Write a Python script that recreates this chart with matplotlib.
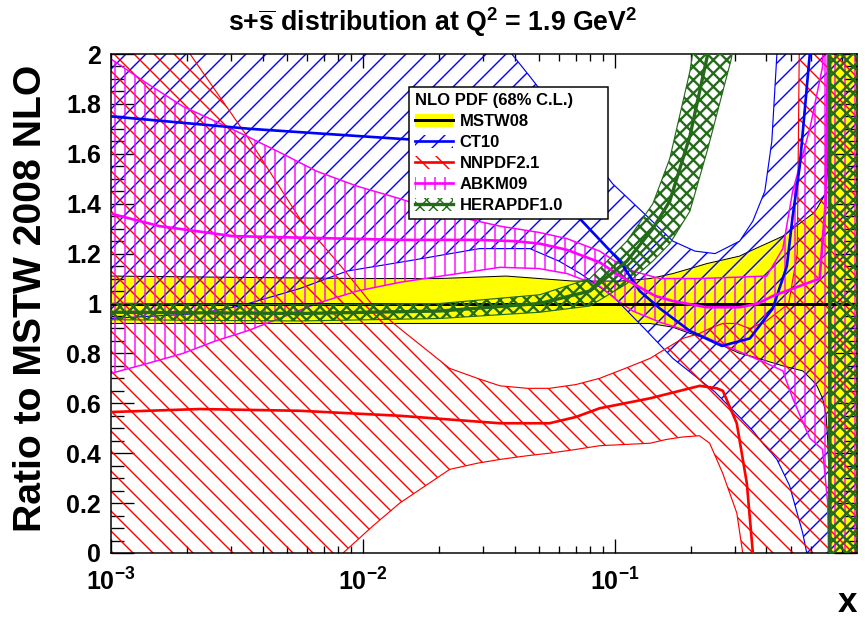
import numpy as np
import matplotlib
matplotlib.use("Agg")
import matplotlib.pyplot as plt
from matplotlib.patches import Patch
from matplotlib.lines import Line2D
from matplotlib.ticker import MultipleLocator, LogLocator, FuncFormatter, NullFormatter

plt.rcParams['font.family'] = ['Liberation Sans', 'DejaVu Sans']
plt.rcParams['font.weight'] = 'bold'
plt.rcParams['mathtext.fontset'] = 'custom'
plt.rcParams['mathtext.rm'] = 'Liberation Sans:bold'
plt.rcParams['mathtext.bf'] = 'Liberation Sans:bold'
plt.rcParams['mathtext.it'] = 'Liberation Sans:bold:italic'
plt.rcParams['hatch.linewidth'] = 0.85

# ratio s+sbar (PDF) / s+sbar (MSTW08) at Q^2 = 1.9 GeV^2
# MSTW08 ratio band (central is 1 by construction)
mstw_central = 1.0
x_mstw = [0.001, 0.003, 0.01, 0.02, 0.037, 0.068, 0.105, 0.138, 0.170, 0.199, 0.232, 0.313,
          0.344, 0.465, 0.557, 0.611, 0.634, 0.668, 0.690, 0.700, 0.706, 0.711, 0.715, 0.915]
mstw_hi = [1.11, 1.105, 1.10, 1.10, 1.11, 1.09, 1.09, 1.10, 1.12, 1.14, 1.16, 1.19,
           1.21, 1.27, 1.33, 1.36, 1.38, 1.42, 1.45, 1.55, 1.8, 2.4, 3, 3]
mstw_lo = [0.92, 0.92, 0.92, 0.92, 0.92, 0.92, 0.92, 0.92, 0.905, 0.88, 0.86, 0.80,
           0.79, 0.75, 0.73, 0.69, 0.67, 0.62, 0.55, 0.45, 0.35, 0.2, -1, -1]

# CT10
x_ct = [0.001, 0.00225, 0.00325, 0.00562, 0.00865, 0.015, 0.029, 0.039, 0.046, 0.060, 0.073,
        0.098, 0.131, 0.170, 0.208, 0.250, 0.313, 0.353, 0.394, 0.420, 0.440, 0.494, 0.557,
        0.578, 0.60, 0.915]
ct_hi = [3, 3, 3, 3, 3, 3, 2.2, 2.0, 1.91, 1.76, 1.65, 1.48, 1.36, 1.25, 1.21, 1.20, 1.25,
         1.33, 1.45, 1.65, 2.0, 3, 3, 3, 3, 3]
ct_lo = [0.94, 0.96, 0.99, 1.06, 1.13, 1.17, 1.22, 1.22, 1.22, 1.17, 1.12, 1.03, 0.90, 0.78,
         0.71, 0.645, 0.545, 0.49, 0.43, 0.40, 0.375, 0.27, 0.08, 0.0, -0.3, -1]
x_ct_c = [0.001, 0.00357, 0.01403, 0.029, 0.0383, 0.045, 0.0527, 0.0726, 0.1047, 0.1256, 0.151,
          0.1986, 0.2661, 0.3436, 0.4236, 0.482, 0.5082, 0.542, 0.5943, 0.62, 0.712, 0.714, 0.915]
ct_c = [1.75, 1.70, 1.66, 1.64, 1.62, 1.57, 1.49, 1.34, 1.17, 1.05, 0.98, 0.89, 0.83, 0.86, 0.98,
        1.15, 1.35, 1.55, 2.0, 3, 3, -1, -1]

# NNPDF2.1
x_nn = [0.001, 0.00206, 0.00347, 0.00562, 0.00834, 0.011, 0.014, 0.0221, 0.0285, 0.035, 0.045,
        0.055, 0.07, 0.087, 0.11, 0.138, 0.16, 0.186, 0.217, 0.238, 0.268, 0.305, 0.322, 0.344,
        0.40, 0.49, 0.53, 0.542, 0.55, 0.915]
nn_hi = [2.6, 2.0, 1.67, 1.34, 1.14, 0.99, 0.90, 0.74, 0.70, 0.67, 0.66, 0.66, 0.675, 0.70,
         0.74, 0.78, 0.82, 0.86, 0.88, 0.90, 0.92, 0.92, 0.91, 0.90, 0.93, 1.0, 1.2, 2.2, 3, 3]
nn_lo = [-0.9, -0.6, -0.38, -0.2, 0.0, 0.11, 0.2, 0.335, 0.36, 0.375, 0.39, 0.40, 0.415, 0.43,
         0.435, 0.44, 0.455, 0.465, 0.47, 0.44, 0.32, 0.16, 0.0, -0.2, -0.6, -1, -1, -1, -1, -1]
x_nn_c = [0.001, 0.00225, 0.00562, 0.014, 0.035, 0.055, 0.07, 0.087, 0.138, 0.2173, 0.2541,
          0.2686, 0.3048, 0.3342, 0.3532, 0.37]
nn_c = [0.565, 0.577, 0.57, 0.55, 0.52, 0.52, 0.545, 0.58, 0.62, 0.67, 0.66, 0.65, 0.52, 0.28,
        0.0, -0.5]

# ABKM09
x_ab = [0.001, 0.0014, 0.00193, 0.0026, 0.00347, 0.0048, 0.00656, 0.0095, 0.01403, 0.02213,
        0.0350, 0.05, 0.0646, 0.0871, 0.1, 0.1178, 0.151, 0.2173, 0.4009, 0.4645, 0.5082,
        0.5943, 0.668, 0.700, 0.733, 0.915]
ab_hi = [1.98, 1.88, 1.79, 1.73, 1.67, 1.60, 1.53, 1.47, 1.42, 1.355, 1.31, 1.285, 1.26, 1.21,
         1.17, 1.13, 1.10, 1.10, 1.11, 1.22, 1.45, 1.7, 1.95, 3, 3, 3]
ab_lo = [0.72, 0.76, 0.80, 0.85, 0.89, 0.945, 1.0, 1.05, 1.085, 1.115, 1.145, 1.14, 1.12, 1.07,
         1.02, 0.97, 0.925, 0.875, 0.76, 0.73, 0.62, 0.46, 0.415, 0.2, -1, -1]
x_ab_c = [0.001, 0.00156, 0.00305, 0.01403, 0.0283, 0.04, 0.0503, 0.0646, 0.0871, 0.105, 0.1256,
          0.145, 0.1698, 0.2317, 0.3133, 0.37, 0.4236, 0.542, 0.650, 0.687, 0.706, 0.713, 0.715, 0.915]
ab_c = [1.36, 1.31, 1.27, 1.255, 1.255, 1.25, 1.24, 1.215, 1.165, 1.11, 1.065, 1.03, 1.01, 0.985,
        0.985, 1.0, 1.03, 1.07, 1.10, 1.4, 2.2, 3, -1, -1]

# HERAPDF1.0
x_hera = [0.001, 0.00562, 0.02024, 0.0503, 0.0796, 0.1117, 0.1416, 0.1652, 0.1986, 0.2339,
          0.29, 0.35, 0.70, 0.712, 0.714, 0.915]
hera_hi = [1.0, 0.995, 1.0, 1.035, 1.10, 1.25, 1.40, 1.58, 1.93, 2.4, 3.2, 3.5, 3.5, 3.5, 3.5, 3.5]
hera_lo = [0.935, 0.93, 0.94, 0.965, 0.99, 1.08, 1.17, 1.24, 1.37, 1.62, 1.98, 2.5, 3.2, 3.5, -1, -1]
x_hera_c = [0.001, 0.00562, 0.02024, 0.0503, 0.0796, 0.1117, 0.1416, 0.1652, 0.1986, 0.2339,
            0.29, 0.712, 0.714, 0.915]
hera_c = [0.965, 0.96, 0.97, 1.0, 1.05, 1.17, 1.30, 1.41, 1.67, 2.0, 2.6, 3.5, -1, -1]

labels = ["MSTW08", "CT10", "NNPDF2.1", "ABKM09", "HERAPDF1.0"]
c_blue, c_red, c_mag, c_green = "#0000ff", "#ff0000", "#ff00ff", "#236b18"

fig = plt.figure(figsize=(865 / 120, 622 / 120), dpi=120)
ax = fig.add_axes([111 / 865, 1 - 553 / 622, 746 / 865, 499 / 622])

# bands
ax.fill_between(x_mstw, mstw_lo, mstw_hi, facecolor="yellow", edgecolor="none", zorder=1)
ax.plot(x_mstw, mstw_lo, color="k", lw=0.6, zorder=1.1)
ax.plot(x_mstw, mstw_hi, color="k", lw=0.6, zorder=1.1)

ax.fill_between(x_ct, ct_lo, ct_hi, facecolor="none", edgecolor=c_blue, hatch="//", lw=0, zorder=2)
ax.plot(x_ct, ct_lo, color=c_blue, lw=0.7, zorder=2)
ax.plot(x_ct, ct_hi, color=c_blue, lw=0.7, zorder=2)

ax.fill_between(x_nn, nn_lo, nn_hi, facecolor="none", edgecolor=c_red, hatch="\\\\", lw=0, zorder=2)
ax.plot(x_nn, nn_lo, color=c_red, lw=0.7, zorder=2)
ax.plot(x_nn, nn_hi, color=c_red, lw=0.7, zorder=2)

ax.fill_between(x_ab, ab_lo, ab_hi, facecolor="none", edgecolor=c_mag, hatch="||", lw=0, zorder=2)
ax.plot(x_ab, ab_lo, color=c_mag, lw=0.9, zorder=2)
ax.plot(x_ab, ab_hi, color=c_mag, lw=0.9, zorder=2)

ax.axhline(mstw_central, color="k", lw=1.8, zorder=3)

with plt.rc_context({"hatch.linewidth": 1.4}):
    hb = ax.fill_between(x_hera, hera_lo, hera_hi, facecolor="none", edgecolor=c_green,
                         hatch="xxx", lw=0, zorder=4)
    if hasattr(hb, "set_hatch_linewidth"):
        hb.set_hatch_linewidth(1.4)
ax.plot(x_hera, hera_lo, color=c_green, lw=0.7, zorder=4)
ax.plot(x_hera, hera_hi, color=c_green, lw=0.7, zorder=4)

# central values
ax.plot(x_ct_c, ct_c, color=c_blue, lw=1.6, zorder=5)
ax.plot(x_nn_c, nn_c, color=c_red, lw=1.6, zorder=5)
ax.plot(x_ab_c, ab_c, color=c_mag, lw=1.6, zorder=5)
ax.plot(x_hera_c, hera_c, color=c_green, lw=2.0, zorder=5)

ax.set_xscale("log")
ax.set_xlim(1e-3, 0.915)
ax.set_ylim(0, 2)

ax.yaxis.set_major_locator(MultipleLocator(0.2))
ax.yaxis.set_minor_locator(MultipleLocator(0.05))
ax.yaxis.set_major_formatter(FuncFormatter(lambda v, p: "%g" % round(v, 2)))
ax.xaxis.set_major_locator(LogLocator(base=10))
ax.xaxis.set_minor_locator(LogLocator(base=10, subs=np.arange(2, 10)))
ax.xaxis.set_minor_formatter(NullFormatter())
ax.xaxis.set_major_formatter(FuncFormatter(lambda v, p: r"$\mathbf{10^{%d}}$" % round(np.log10(v))))

ax.tick_params(axis="y", which="major", direction="in", length=13.8, width=0.8,
               left=True, right=True, labelsize=15, pad=6)
ax.tick_params(axis="y", which="minor", direction="in", length=7.8, width=0.8, left=True, right=True)
ax.tick_params(axis="x", which="major", direction="in", length=8.4, width=0.8,
               bottom=True, top=True, labelsize=15, pad=9)
ax.tick_params(axis="x", which="minor", direction="in", length=4.2, width=0.8, bottom=True, top=True)
for s in ax.spines.values():
    s.set_linewidth(0.9)

# legend
handles = [
    (Patch(facecolor="yellow", edgecolor="none"), Line2D([], [], color="k", lw=1.8)),
    (Patch(facecolor="none", edgecolor=c_blue, hatch="//", lw=0), Line2D([], [], color=c_blue, lw=1.6)),
    (Patch(facecolor="none", edgecolor=c_red, hatch="\\\\", lw=0), Line2D([], [], color=c_red, lw=1.6)),
    (Patch(facecolor="none", edgecolor=c_mag, hatch="||", lw=0), Line2D([], [], color=c_mag, lw=1.6)),
    (Patch(facecolor="none", edgecolor=c_green, hatch="xxx", lw=0), Line2D([], [], color=c_green, lw=2.0)),
]
leg = ax.legend(handles, labels, title="NLO PDF (68% C.L.)", loc="upper left",
                bbox_to_anchor=(298 / 746, 0.5, 199 / 746, 466 / 499 - 0.5), mode="expand",
                fancybox=False, edgecolor="black", framealpha=1, fontsize=10, title_fontsize=10,
                alignment="left", handlelength=2.3, handleheight=0.85, labelspacing=0.34,
                borderpad=0.35, handletextpad=0.4, borderaxespad=0)
leg.get_frame().set_linewidth(0.9)
leg.set_zorder(10)

fig.text(433 / 865, 1 - 22 / 622,
         r"s+$\overline{\mathrm{s}}$ distribution at Q$^{2}$ = 1.9 GeV$^{2}$",
         ha="center", va="center", fontsize=16, fontweight="bold")
fig.text(31 / 865, 1 - 298 / 622, "Ratio to MSTW 2008 NLO", rotation=90,
         ha="center", va="center", fontsize=23.5, fontweight="bold")
fig.text(848 / 865, 1 - 603 / 622, "x", ha="center", va="center", fontsize=21, fontweight="bold")

fig.savefig("out.png", dpi=120)
